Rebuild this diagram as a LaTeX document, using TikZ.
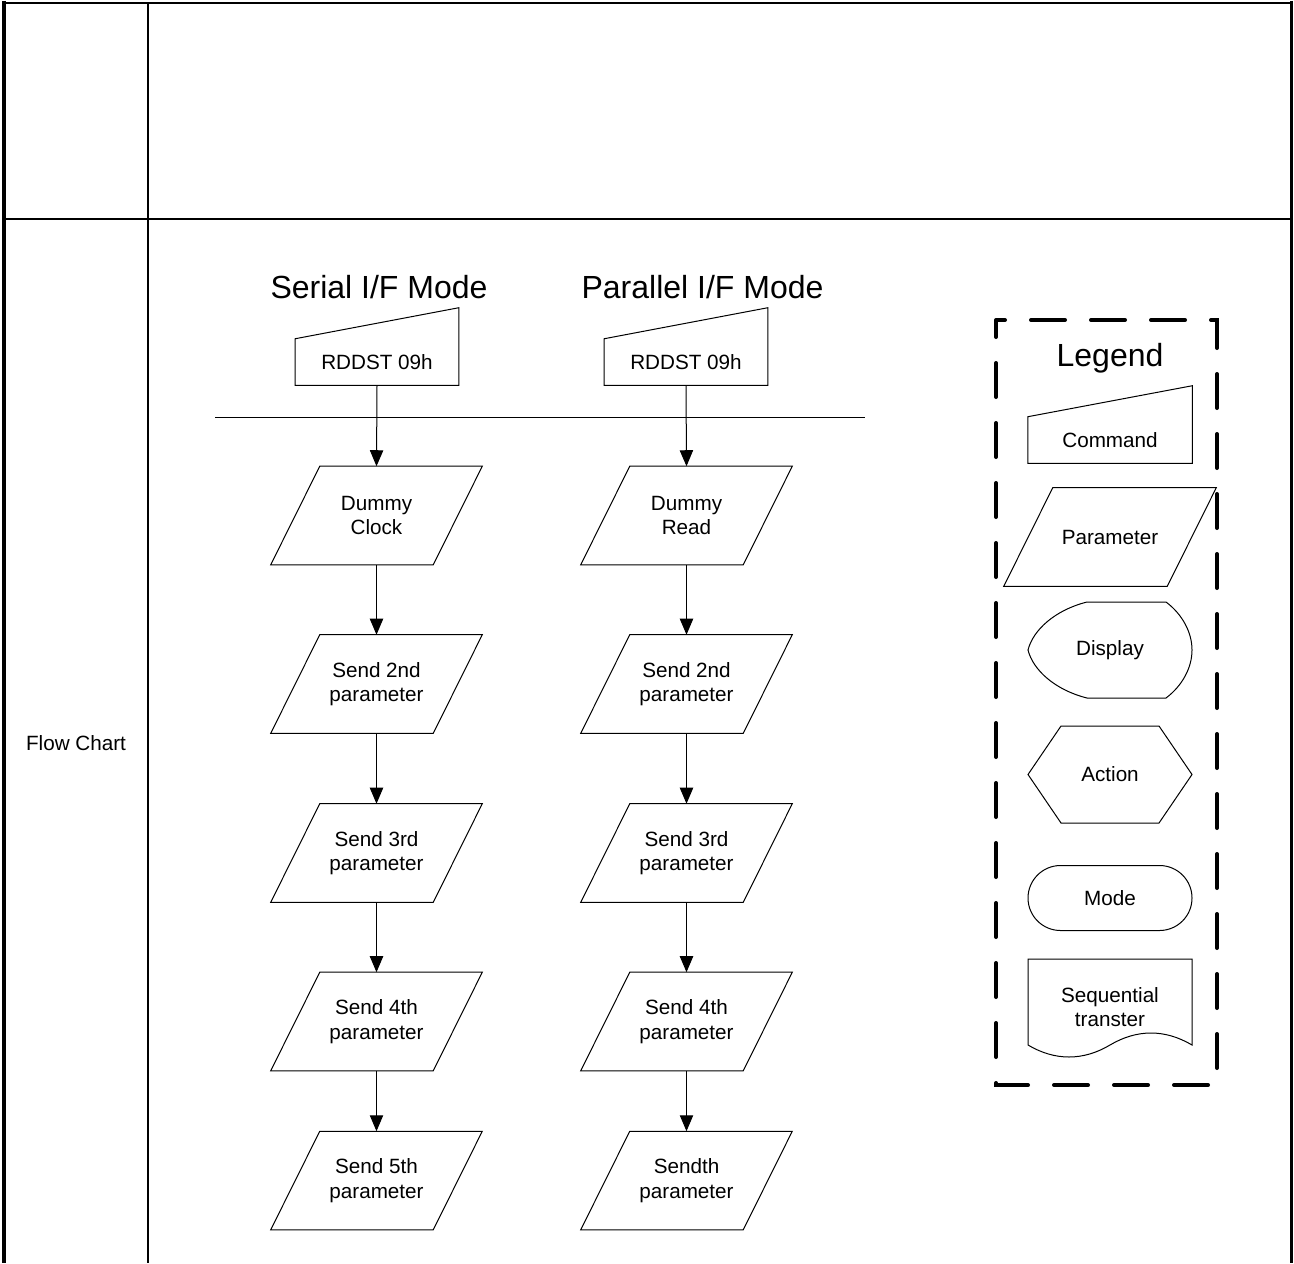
\documentclass[tikz,border=0pt]{standalone}
\usepackage{fontspec}
\setmainfont{Liberation Sans}
\usetikzlibrary{calc,arrows.meta}
\newdimen\pxu \pxu=0.75pt
\tikzset{
  shp/.style={draw=black, line width=0.75pt},
  lbl/.style={font=\fontsize{15.5}{18.4}\selectfont, align=center, inner sep=0pt},
  parabox/.style={lbl, minimum width=211\pxu, minimum height=98\pxu},
  cmdbox/.style={lbl, minimum width=163\pxu, minimum height=46\pxu},
  flow/.style={line width=0.75pt, -{Triangle[length=12pt,width=10pt]}},
  title/.style={font=\fontsize{24}{28}\selectfont, inner sep=0pt},
}
\newcommand\myPara[1]{\draw[shp] ($(#1.north west)+(49,0)$) -- (#1.north east) -- ($(#1.south east)+(-49,0)$) -- (#1.south west) -- cycle;}
\newcommand\myCmd[1]{\draw[shp] (#1.north west) -- (#1.south west) -- (#1.south east) -- ($(#1.north east)+(0,-31)$) -- cycle;}
\begin{document}
\begin{tikzpicture}[x=0.75pt,y=-0.75pt]
\useasboundingbox (0,0) rectangle (1294,1263);
% table frame
\draw[line width=1.5pt] (2,3) -- (1293,3);
\draw[line width=3pt] (4,1) -- (4,1263);
\draw[line width=2.25pt] (1291.5,1) -- (1291.5,1263);
\draw[line width=1.5pt] (148,3) -- (148,1263);
\draw[line width=1.5pt] (4,218.5) -- (1291,218.5);
\node[lbl] (fc) at (76,743) {Flow Chart};
% titles
\node[title] (ts) at (379,287) {Serial I/F Mode};
\node[title] (tp) at (702.5,287) {Parallel I/F Mode};
% commands
\node[cmdbox] (sc) at (377,362) {RDDST 09h}; \myCmd{sc}
\node[cmdbox] (pc) at (686,362) {RDDST 09h}; \myCmd{pc}
% separator
\coordinate (sepL) at (215,417);
\coordinate (sepR) at (865,417);
\draw[line width=0.75pt] (sepL) -- (sepR);
% serial column
\node[parabox] (s1) at (376.5,515.5) {Dummy\\Clock}; \myPara{s1}
\node[parabox] (s2) at (376.5,684) {Send 2nd\\parameter}; \myPara{s2}
\node[parabox] (s3) at (376.5,853) {Send 3rd\\parameter}; \myPara{s3}
\node[parabox] (s4) at (376.5,1021.5) {Send 4th\\parameter}; \myPara{s4}
\node[parabox] (s5) at (376.5,1180.5) {Send 5th\\parameter}; \myPara{s5}
% parallel column
\node[parabox] (p1) at (686.5,515.5) {Dummy\\Read}; \myPara{p1}
\node[parabox] (p2) at (686.5,684) {Send 2nd\\parameter}; \myPara{p2}
\node[parabox] (p3) at (686.5,853) {Send 3rd\\parameter}; \myPara{p3}
\node[parabox] (p4) at (686.5,1021.5) {Send 4th\\parameter}; \myPara{p4}
\node[parabox] (p5) at (686.5,1180.5) {Sendth\\parameter}; \myPara{p5}
% arrows
\draw[flow] (sc.south) -- (s1.north);
\draw[flow] (s1.south) -- (s2.north);
\draw[flow] (s2.south) -- (s3.north);
\draw[flow] (s3.south) -- (s4.north);
\draw[flow] (s4.south) -- (s5.north);
\draw[flow] (pc.south) -- (p1.north);
\draw[flow] (p1.south) -- (p2.north);
\draw[flow] (p2.south) -- (p3.north);
\draw[flow] (p3.south) -- (p4.north);
\draw[flow] (p4.south) -- (p5.north);
% legend
\draw[line width=3pt, dash pattern=on 25.5pt off 19.5pt, dash phase=12.75pt, line cap=round] (996,320) rectangle (1217,1085);
\node[title] (lt) at (1110,358) {Legend};
\node[cmdbox, minimum width=164\pxu] (lcmd) at (1110,440) {Command}; \myCmd{lcmd}
\node[parabox, minimum width=212\pxu] (lpar) at (1110,537) {Parameter}; \myPara{lpar}
\node[lbl, minimum width=164\pxu, minimum height=96\pxu] (ldisp) at (1110,650) {Display};
\begin{scope}[shift={(ldisp.center)}]
\draw[shp] (-23,-48) -- (56,-48) .. controls (72,-36) and (82,-18) .. (82,0)
  .. controls (82,18) and (72,36) .. (56,48) -- (-23,48)
  .. controls (-55,40) and (-77,20) .. (-82,0)
  .. controls (-77,-20) and (-55,-40) .. (-23,-48) -- cycle;
\end{scope}
\node[lbl, minimum width=164\pxu, minimum height=97\pxu] (lact) at (1110,774.5) {Action};
\begin{scope}[shift={(lact.center)}]
\draw[shp] (-82,0) -- (-49,-48.5) -- (49,-48.5) -- (82,0) -- (49,48.5) -- (-49,48.5) -- cycle;
\end{scope}
\node[lbl, draw, line width=0.75pt, rounded corners=32.5\pxu, minimum width=164\pxu, minimum height=65\pxu] (lmode) at (1110,898) {Mode};
\node[lbl] (lseq) at (1110,1007) {Sequential\\transter};
\begin{scope}[shift={(lseq.center)}]
\draw[shp] (-82,38) -- (-82,-48) -- (82,-48) -- (82,38)
  .. controls (55,22) and (27,22) .. (0,38)
  .. controls (-27,54) and (-55,54) .. (-82,38) -- cycle;
\end{scope}
\end{tikzpicture}
\end{document}
